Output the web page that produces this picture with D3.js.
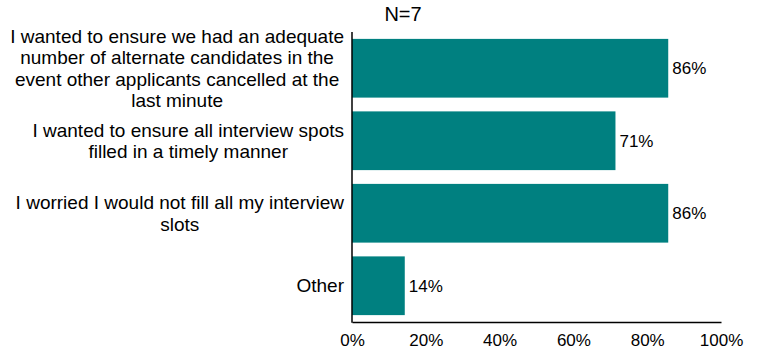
<!DOCTYPE html>
<html><head><meta charset="utf-8">
<script src="https://cdn.jsdelivr.net/npm/d3@7"></script>
<style>body{margin:0;background:#fff}svg{display:block;font-family:"Liberation Sans",Arial,sans-serif}</style>
</head><body>
<svg id="c" width="758" height="349"></svg>
<script>
const categories = [
  ["I wanted to ensure we had an adequate","number of alternate candidates in the","event other applicants cancelled at the","last minute"],
  ["I wanted to ensure all interview spots","filled in a timely manner"],
  ["I worried I would not fill all my interview","slots"],
  ["Other"]
];
const values = [85.7, 71.4, 85.7, 14.3];
const valueLabels = ["86%","71%","86%","14%"];
const tickValues = [0,20,40,60,80,100];
const title = "N=7";

const svg = d3.select("#c");
const fs = 17, catFs = 19, titleFs = 20;
const x = d3.scaleLinear().domain([0,100]).range([352,721]);
const y = d3.scaleBand().domain(d3.range(categories.length)).range([32,322]).paddingInner(0.19).paddingOuter(0.095);

svg.append("text").attr("x",403).attr("y",21).attr("text-anchor","middle").attr("font-size",titleFs).attr("fill","#000").text(title);

svg.selectAll("rect.bar").data(values).join("rect").attr("class","bar")
  .attr("x",x(0)).attr("y",(d,i)=>y(i)).attr("width",d=>x(d)-x(0)).attr("height",y.bandwidth()).attr("fill","#008080");

svg.selectAll("text.val").data(values).join("text").attr("class","val")
  .attr("x",d=>x(d)+4).attr("y",(d,i)=>y(i)+y.bandwidth()/2).attr("dy","0.35em")
  .attr("font-size",fs).attr("fill","#000").text((d,i)=>valueLabels[i]);

// category labels
const lh = 21.5;
categories.forEach((lines,i)=>{
  const g = svg.append("g");
  const ts = lines.map((l,k)=>g.append("text").attr("font-size",catFs).attr("fill","#000").attr("text-anchor","middle").text(l));
  const maxW = d3.max(ts, t=>t.node().getComputedTextLength());
  const cx = 344 - maxW/2;
  const cy = y(i)+y.bandwidth()/2;
  const n = lines.length;
  ts.forEach((t,k)=>t.attr("x",cx).attr("y",cy + (k-(n-1)/2)*lh).attr("dy","0.35em"));
});

// axes
const xAxis = d3.axisBottom(x).tickValues(tickValues).tickSize(0).tickPadding(12).tickFormat(d=>d+"%");
const gx = svg.append("g").attr("transform","translate(0,322)").call(xAxis);
gx.select(".domain").attr("stroke","#000").attr("stroke-width",1.5);
gx.selectAll("text").attr("font-size",fs).attr("fill","#000").attr("font-family","Liberation Sans, Arial, sans-serif");

svg.append("line").attr("x1",x(0)).attr("x2",x(0)).attr("y1",32).attr("y2",322.75).attr("stroke","#000").attr("stroke-width",1.5);
</script>
</body></html>
